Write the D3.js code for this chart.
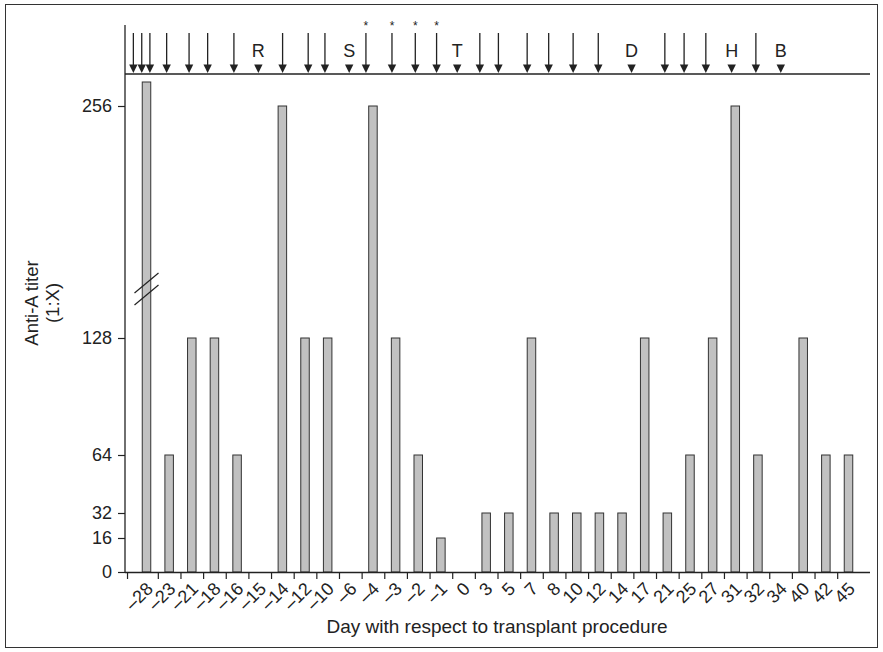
<!DOCTYPE html>
<html>
<head>
<meta charset="utf-8">
<script src="https://cdn.jsdelivr.net/npm/d3@7"></script>
<style>
  html, body { margin: 0; padding: 0; background: #fff; }
  svg { display: block; font-family: "Liberation Sans", Arial, sans-serif; }
</style>
</head>
<body>
<svg id="chart" width="883" height="652"></svg>
<script>
// ---------------- data ----------------
const days = ["–28","–23","–21","–18","–16","–15","–14","–12","–10","–6","–4","–3","–2","–1","0","3","5","7","8","10","12","14","17","21","25","27","31","32","34","40","42","45"];
const titers = [512,64,128,128,64,0,256,128,128,0,256,128,64,16,0,32,32,128,32,32,32,32,128,32,64,128,256,64,0,128,64,64];
const yTicks = [0,16,32,64,128,256];
// treatment events along the top strip, positioned on the category-index scale
const eventPos = [-0.58,-0.21,0.15,0.89,1.88,2.70,3.86,4.94,6.01,7.14,7.88,8.95,9.69,10.84,11.87,12.81,13.72,14.72,15.54,16.81,17.76,18.84,19.95,21.42,22.89,23.74,24.70,25.84,26.91,28.01];
const eventMark = ["","","","","","","","R","","","","S","","","","","T","","","","","","","D","","","","H","","B"];
const eventStar = [0,0,0,0,0,0,0,0,0,0,0,0,1,1,1,1,0,0,0,0,0,0,0,0,0,0,0,0,0,0];
const breakValue = 155;

// ---------------- layout ----------------
const svg = d3.select("#chart");
const ink = "#222";
const axisX0 = 125, axisX1 = 870, baseY = 572, topY = 25, stripY = 74;

const xPt = d3.scalePoint().domain(days).range([146.5, 848.5]);
const xIdx = d3.scaleLinear().domain([0, days.length - 1]).range([146.5, 848.5]);
const y = d3.scaleLinear()
  .domain([0, 16, 32, 64, 128, 256, 512])
  .range([baseY, 538, 513, 455, 338, 106, 82]);
const barW = 8.5;

// outer frame
svg.append("rect").attr("x", 5.5).attr("y", 4.5).attr("width", 872).attr("height", 643)
  .attr("fill", "none").attr("stroke", "#333").attr("stroke-width", 1);

// bars
svg.append("g").selectAll("rect")
  .data(days.map((d, i) => ({ d, v: titers[i] })).filter(o => o.v > 0))
  .join("rect")
  .attr("x", o => xPt(o.d) - barW / 2)
  .attr("y", o => y(o.v))
  .attr("width", barW)
  .attr("height", o => baseY - y(o.v))
  .attr("fill", "#c1c1c1")
  .attr("stroke", "#333")
  .attr("stroke-width", 1);

// axis break marks on the first bar
const bx = xPt(days[0]);
const by = y(breakValue);
[-6, 6].forEach(off => {
  svg.append("line")
    .attr("x1", bx - 12).attr("y1", by + off + 10)
    .attr("x2", bx + 12).attr("y2", by + off - 10)
    .attr("stroke", ink).attr("stroke-width", 1.2);
});

// y axis
const yAxis = svg.append("g").attr("transform", `translate(${axisX0},0)`)
  .call(d3.axisLeft(y).tickValues(yTicks).tickSize(7).tickPadding(6).tickFormat(d3.format("d")));
yAxis.select(".domain").remove();
yAxis.selectAll("line").attr("stroke", ink).attr("stroke-width", 1.2);
yAxis.selectAll("text").attr("font-size", 18).attr("fill", ink)
  .attr("font-family", "Liberation Sans, Arial, sans-serif");
svg.append("line").attr("x1", axisX0).attr("x2", axisX0).attr("y1", topY).attr("y2", baseY)
  .attr("stroke", ink).attr("stroke-width", 1.3);

// x axis: baseline, ticks at category boundaries, rotated labels
svg.append("line").attr("x1", axisX0).attr("x2", axisX1).attr("y1", baseY + 0.5).attr("y2", baseY + 0.5)
  .attr("stroke", ink).attr("stroke-width", 1.3);
const tickIdx = [-0.86].concat(d3.range(0, days.length - 1).map(i => i + 0.5));
const xTicks = svg.append("g").attr("transform", `translate(0,${baseY})`)
  .call(d3.axisBottom(xIdx).tickValues(tickIdx).tickSize(7).tickFormat(""));
xTicks.select(".domain").remove();
xTicks.selectAll("line").attr("stroke", ink).attr("stroke-width", 1.2);

const xLab = svg.append("g").attr("transform", `translate(0,${baseY})`)
  .call(d3.axisBottom(xPt).tickSize(0));
xLab.select(".domain").remove();
xLab.selectAll("text")
  .attr("font-size", 18).attr("fill", ink)
  .attr("font-family", "Liberation Sans, Arial, sans-serif")
  .attr("text-anchor", "end")
  .attr("x", 0).attr("y", 0).attr("dy", null)
  .attr("transform", "translate(7,18) rotate(-45)");

// axis titles
svg.append("text").attr("x", 497).attr("y", 633).attr("text-anchor", "middle")
  .attr("font-size", 19).attr("fill", ink).text("Day with respect to transplant procedure");
svg.append("text").attr("transform", "translate(38,303) rotate(-90)").attr("text-anchor", "middle")
  .attr("font-size", 18.5).attr("fill", ink).text("Anti-A titer");
svg.append("text").attr("transform", "translate(59,303) rotate(-90)").attr("text-anchor", "middle")
  .attr("font-size", 18.5).attr("fill", ink).text("(1:X)");

// top event strip
svg.append("line").attr("x1", axisX0).attr("x2", axisX1).attr("y1", stripY).attr("y2", stripY)
  .attr("stroke", ink).attr("stroke-width", 1.5);
const ev = svg.append("g").selectAll("g")
  .data(eventPos.map((p, i) => ({ p, m: eventMark[i], s: eventStar[i] })))
  .join("g")
  .attr("transform", d => `translate(${xIdx(d.p)},0)`);
ev.filter(d => !d.m).append("line")
  .attr("x1", 0).attr("x2", 0).attr("y1", 33).attr("y2", 66)
  .attr("stroke", ink).attr("stroke-width", 1.3);
ev.append("path")
  .attr("d", `M-4.2,${stripY - 9.5}L4.2,${stripY - 9.5}L0,${stripY - 1}Z`)
  .attr("fill", ink);
ev.filter(d => d.m).append("text")
  .attr("y", 57).attr("text-anchor", "middle").attr("font-size", 18).attr("fill", ink)
  .text(d => d.m);
ev.filter(d => d.s).append("text")
  .attr("y", 30).attr("text-anchor", "middle").attr("font-size", 12).attr("fill", ink)
  .text("*");
</script>
</body>
</html>
